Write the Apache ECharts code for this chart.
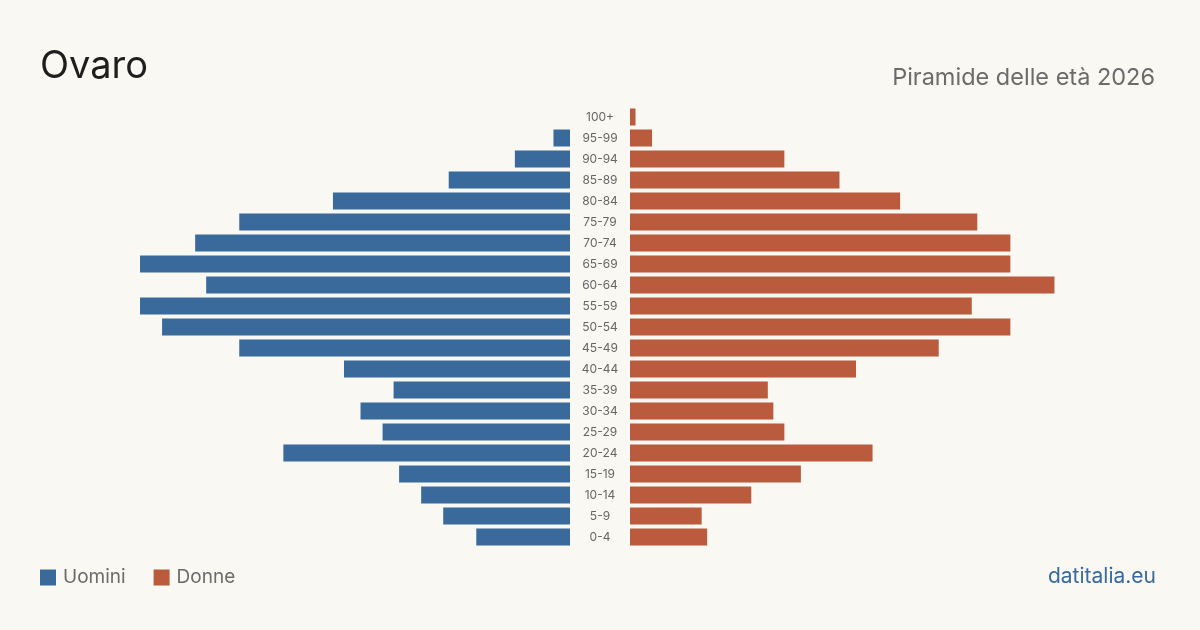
<!DOCTYPE html>
<html>
<head>
<meta charset="utf-8">
<script src="https://cdn.jsdelivr.net/npm/echarts@6/dist/echarts.min.js"></script>
<style>
  html, body { margin: 0; padding: 0; background: #f9f8f3; }
  #chart { width: 1200px; height: 630px; }
</style>
</head>
<body>
<div id="chart"></div>
<script>
// fasce d'eta, dall'alto in basso
var fasce = ['100+', '95-99', '90-94', '85-89', '80-84', '75-79', '70-74', '65-69', '60-64', '55-59',
    '50-54', '45-49', '40-44', '35-39', '30-34', '25-29', '20-24', '15-19', '10-14', '5-9', '0-4'];
var uomini = [0, 3, 10, 22, 43, 60, 68, 78, 66, 78, 74, 60, 41, 32, 38, 34, 52, 31, 27, 23, 17];
var donne = [1, 4, 28, 38, 49, 63, 69, 69, 77, 62, 69, 56, 41, 25, 26, 28, 44, 31, 22, 13, 14];

var blu = '#3a6a9b';
var rosso = '#b95b3c';
var font = 'Inter, "Liberation Sans", sans-serif';
var maxVal = 80;

var chart = echarts.init(document.getElementById('chart'));

var option = {
    backgroundColor: '#f9f8f3',
    animation: false,
    textStyle: { fontFamily: font },
    title: [{
        text: 'Ovaro',
        left: 35, top: 43,
        textStyle: { fontSize: 38, fontWeight: 'normal', color: '#1e1e1e', fontFamily: font }
    }, {
        text: 'Piramide delle età 2026',
        right: 40, top: 61,
        textStyle: { fontSize: 23.5, fontWeight: 'normal', color: '#6b6b6b', fontFamily: font }
    }, {
        text: 'datitalia.eu',
        right: 39, top: 561,
        textStyle: { fontSize: 21, fontWeight: 'normal', color: blu, fontFamily: font }
    }],
    legend: {
        left: 35, top: 563,
        itemWidth: 16, itemHeight: 16, itemGap: 28,
        icon: 'rect',
        textStyle: { fontSize: 19, color: '#6b6b6b', fontFamily: font, padding: [0, 0, 0, 2] },
        data: ['Uomini', 'Donne']
    },
    grid: [
        { left: 570 - 441, width: 441, top: 106.5, height: 441 },
        { left: 630, width: 441, top: 106.5, height: 441 }
    ],
    xAxis: [
        { gridIndex: 0, type: 'value', inverse: true, min: 0, max: maxVal, show: false },
        { gridIndex: 1, type: 'value', min: 0, max: maxVal, show: false }
    ],
    yAxis: [{
        gridIndex: 0, type: 'category', data: fasce, inverse: true, position: 'right',
        axisLine: { show: false }, axisTick: { show: false }, splitLine: { show: false },
        axisLabel: { align: 'center', margin: 30, fontSize: 12, color: '#666', fontFamily: font }
    }, {
        gridIndex: 1, type: 'category', data: fasce, inverse: true,
        axisLine: { show: false }, axisTick: { show: false }, splitLine: { show: false },
        axisLabel: { show: false }
    }],
    series: [{
        name: 'Uomini', type: 'bar', xAxisIndex: 0, yAxisIndex: 0,
        data: uomini, barWidth: 17, itemStyle: { color: blu }
    }, {
        name: 'Donne', type: 'bar', xAxisIndex: 1, yAxisIndex: 1,
        data: donne, barWidth: 17, itemStyle: { color: rosso }
    }]
};

chart.setOption(option);
</script>
</body>
</html>
